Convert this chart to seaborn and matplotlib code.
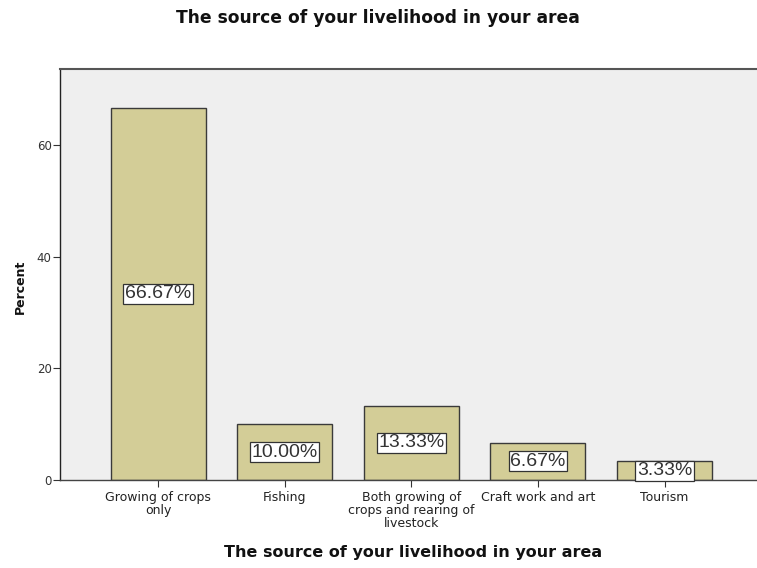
import matplotlib
matplotlib.use("Agg")
import matplotlib.pyplot as plt
import seaborn as sns
import pandas as pd

categories = ["Growing of crops\nonly", "Fishing", "Both growing of\ncrops and rearing of\nlivestock",
              "Craft work and art", "Tourism"]
percents = [66.67, 10.00, 13.33, 6.67, 3.33]
bar_labels = ["66.67%", "10.00%", "13.33%", "6.67%", "3.33%"]
yticks = [0, 20, 40, 60]

sns.set_style("white")
plt.rcParams['font.family'] = ['Liberation Sans', 'DejaVu Sans']

df = pd.DataFrame({"cat": categories, "pct": percents})

fig = plt.figure(figsize=(7.57, 5.68), dpi=100)
ax = fig.add_axes([60/757, 1-480/568, 1-60/757, (480-69)/568])
ax.set_facecolor("#efefef")

sns.barplot(data=df, x="cat", y="pct", ax=ax, color="#d3cd97", width=0.75,
            edgecolor="#3a3a3a", linewidth=1.0, saturation=1)

for i, (v, lab) in enumerate(zip(percents, bar_labels)):
    ax.text(i, v/2, lab, ha="center", va="center", fontsize=14, color="#333333",
            bbox=dict(boxstyle="square,pad=0.08", facecolor="white", edgecolor="#333333", linewidth=0.9))

ax.set_xlim(-0.775, 4.73)
ax.set_ylim(0, 73.6)
ax.set_yticks(yticks)
ax.set_yticklabels([str(t) for t in yticks], fontsize=8.5, family="DejaVu Sans", color="#333333")
for t in ax.get_xticklabels():
    t.set_fontfamily("DejaVu Sans")
    t.set_fontsize(9)
    t.set_color("#222222")
    t.set_linespacing(0.98)
ax.tick_params(axis="x", length=5, width=0.8, color="#333333", direction="out", bottom=True, pad=3)
ax.tick_params(axis="y", length=5, width=0.8, color="#333333", direction="out", left=True, pad=1)

ax.spines["right"].set_visible(False)
ax.spines["top"].set_color("#555555")
ax.spines["top"].set_linewidth(1.5)
ax.spines["left"].set_color("#222222")
ax.spines["bottom"].set_color("#444444")
ax.spines["left"].set_linewidth(1.0)
ax.spines["bottom"].set_linewidth(1.0)

ax.set_xlabel("The source of your livelihood in your area", fontsize=11.5, fontweight="bold",
              family="DejaVu Sans", color="#111111")
ax.xaxis.set_label_coords((413-60)/697, (480-553)/411)
ax.xaxis.label.set_va("center")
ax.set_ylabel("Percent", fontsize=9, fontweight="bold", family="DejaVu Sans", color="#111111")
ax.yaxis.set_label_coords((20-60)/697, (480-287)/411)
ax.yaxis.label.set_va("center")
fig.text(378/757, 1-18/568, "The source of your livelihood in your area", ha="center", va="center",
         fontsize=12.3, fontweight="bold", family="DejaVu Sans", color="#111111")

fig.savefig("out.png", dpi=100)
